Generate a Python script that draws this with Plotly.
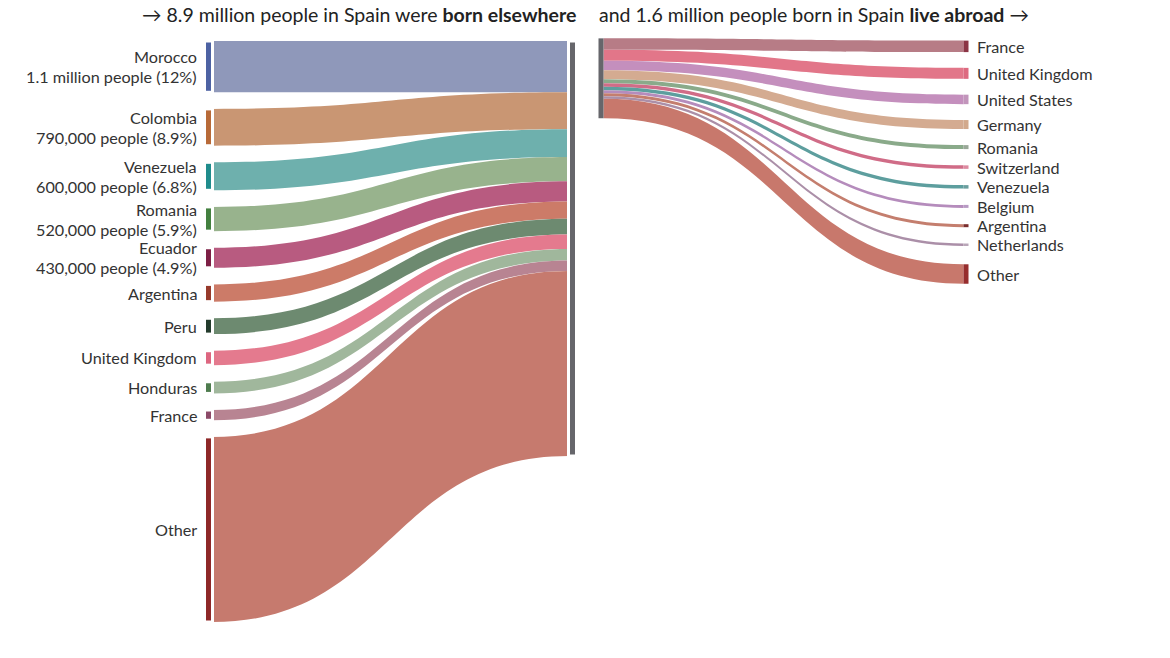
import plotly.graph_objects as go

# ---------------- data ----------------
origin_countries = ["Morocco", "Colombia", "Venezuela", "Romania", "Ecuador", "Argentina",
                    "Peru", "United Kingdom", "Honduras", "France", "Other"]
origin_millions = [1.10, 0.79, 0.60, 0.52, 0.43, 0.37, 0.34, 0.31, 0.25, 0.22, 3.97]
origin_details = ["1.1 million people (12%)", "790,000 people (8.9%)", "600,000 people (6.8%)",
                  "520,000 people (5.9%)", "430,000 people (4.9%)", "", "", "", "", "", ""]

dest_countries = ["France", "United Kingdom", "United States", "Germany", "Romania", "Switzerland",
                  "Venezuela", "Belgium", "Argentina", "Netherlands", "Other"]
dest_millions = [0.23, 0.22, 0.19, 0.18, 0.08, 0.07, 0.07, 0.06, 0.06, 0.05, 0.39]

title_left = "→ 8.9 million people in Spain were <b>born elsewhere</b>"
title_right = "and 1.6 million people born in Spain <b>live abroad</b> →"

# ---------------- styles ----------------
origin_node_colors = ["#4d62a3", "#b86a38", "#1f8c8c", "#43803f", "#7d1f45", "#973a2b",
                      "#233b2c", "#dd6680", "#4e7c4e", "#8c4a68", "#8e2828"]
origin_link_colors = ["#8f98ba", "#c99673", "#6eb0ad", "#98b38d", "#b85b80", "#cc7b68",
                      "#6d8a70", "#e47a8e", "#a0b79c", "#b88492", "#c67a6e"]
dest_node_colors = ["#8b3545", "#dd6a80", "#c295bb", "#d2a98c", "#9aa898", "#dc8aa0",
                    "#6a9e9e", "#b79ac3", "#7a2d2d", "#b9a6b8", "#962d2d"]
dest_link_colors = ["#b77c86", "#e27689", "#c48fbd", "#d4ab91", "#8aaa8a", "#d06c87",
                    "#5d9e9e", "#b58cbc", "#c47e6e", "#ab8fa8", "#c8786c"]
spain_color = "#66666b"

W, H = 1170, 658
TOP = 41
LEFT_BOTTOM = 622
PAD_L = 16.6
PAD_R = 16.5
OTHER_GAP_R = 19
THICK_L = 8          # with a 3px white outline -> 5px visible bar and a small gap to the links
GAP_STROKE = 3
THICK_R = 5
X_SRC_L, X_SPAIN_IN, X_SPAIN_OUT, X_DST_R = 208.5, 572.5, 601, 966
LABEL_L_X, LABEL_R_X = 198, 976
LINE_OFFSET = 10     # half the spacing between the two lines of a two-line label
FONT = "Lato"
TEXT_COLOR = "#333333"
LABEL_SIZE = 16.2
TITLE_SIZE = 19.5

# ---------------- left sankey (inflows) ----------------
HL = LEFT_BOTTOM - TOP
n = len(origin_millions)
total_in = sum(origin_millions)
ky = (HL - (n - 1) * PAD_L) / total_in

left_centers = []
y = TOP
for v in origin_millions:
    h = v * ky
    left_centers.append(y + h / 2)
    y += h + PAD_L
spain_in_center = TOP + total_in * ky / 2

left_node_x = [X_SRC_L / W] * n + [X_SPAIN_IN / W]
left_node_y = [(c - TOP) / HL for c in left_centers] + [(spain_in_center - TOP) / HL]

left = go.Sankey(
    domain=dict(x=[0, 1], y=[1 - LEFT_BOTTOM / H, 1 - TOP / H]),
    arrangement="fixed",
    textfont=dict(color="rgba(0,0,0,0)", size=1),
    node=dict(
        label=origin_countries + ["Spain"],
        x=left_node_x, y=left_node_y,
        pad=PAD_L, thickness=THICK_L,
        color=origin_node_colors + [spain_color],
        line=dict(width=GAP_STROKE, color="white"),
    ),
    link=dict(
        source=list(range(n)),
        target=[n] * n,
        value=origin_millions,
        color=origin_link_colors,
    ),
)

# ---------------- right sankey (outflows) ----------------
m = len(dest_millions)
total_out = sum(dest_millions)
HR = total_out * ky + (m - 1) * PAD_R  # same px-per-million scale as left

right_centers = []
y = TOP
for i, v in enumerate(dest_millions):
    if dest_countries[i] == "Other" and i > 0:
        y += OTHER_GAP_R - PAD_R
    h = v * ky
    right_centers.append(y + h / 2)
    y += h + PAD_R
spain_out_center = TOP + total_out * ky / 2

right_node_x = [X_SPAIN_OUT / W] + [X_DST_R / W] * m
right_node_y = [(spain_out_center - TOP) / HR] + [(c - TOP) / HR for c in right_centers]

right = go.Sankey(
    domain=dict(x=[0, 1], y=[1 - (TOP + HR) / H, 1 - TOP / H]),
    arrangement="fixed",
    textfont=dict(color="rgba(0,0,0,0)", size=1),
    node=dict(
        label=["Spain"] + dest_countries,
        x=right_node_x, y=right_node_y,
        pad=PAD_R, thickness=THICK_R,
        color=[spain_color] + dest_node_colors,
        line=dict(width=0),
    ),
    link=dict(
        source=[0] * m,
        target=list(range(1, m + 1)),
        value=dest_millions,
        color=dest_link_colors,
    ),
)

fig = go.Figure([left, right])

label_font = dict(family=FONT, size=LABEL_SIZE, color=TEXT_COLOR)
annotations = []
for name, det, c in zip(origin_countries, origin_details, left_centers):
    if det:
        lines = [(name, c - LINE_OFFSET), (det, c + LINE_OFFSET)]
    else:
        lines = [(name, c)]
    for txt, yy in lines:
        annotations.append(dict(x=LABEL_L_X / W, y=1 - yy / H, xref="paper", yref="paper",
                                text=txt, showarrow=False, xanchor="right", yanchor="middle",
                                align="right", borderpad=0, font=label_font))
for name, c in zip(dest_countries, right_centers):
    annotations.append(dict(x=LABEL_R_X / W, y=1 - c / H, xref="paper", yref="paper",
                            text=name, showarrow=False, xanchor="left", yanchor="middle",
                            align="left", borderpad=0, font=label_font))
annotations.append(dict(x=578 / W, y=1 - 15 / H, xref="paper", yref="paper", text=title_left,
                        showarrow=False, xanchor="right", yanchor="middle",
                        font=dict(family=FONT, size=TITLE_SIZE, color="#222222")))
annotations.append(dict(x=597 / W, y=1 - 15 / H, xref="paper", yref="paper", text=title_right,
                        showarrow=False, xanchor="left", yanchor="middle",
                        font=dict(family=FONT, size=TITLE_SIZE, color="#222222")))

fig.update_layout(
    width=W, height=H,
    margin=dict(l=0, r=0, t=0, b=0),
    paper_bgcolor="white", plot_bgcolor="white",
    font=dict(family=FONT),
    annotations=annotations,
    showlegend=False,
)

fig.write_html("out.html")
